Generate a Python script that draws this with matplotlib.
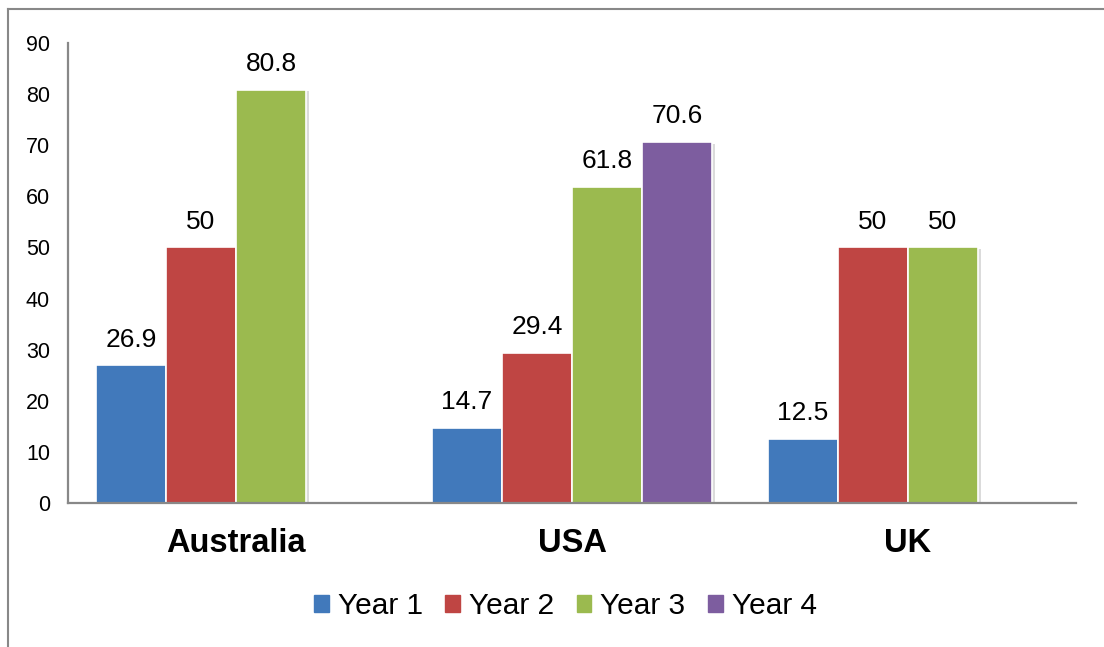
import matplotlib
matplotlib.use('Agg')
import matplotlib.pyplot as plt
import matplotlib.patheffects as pe
from matplotlib.lines import Line2D
import numpy as np

countries = ['Australia', 'USA', 'UK']
series = ['Year 1', 'Year 2', 'Year 3', 'Year 4']
values = {
    'Year 1': [26.9, 14.7, 12.5],
    'Year 2': [50, 29.4, 50],
    'Year 3': [80.8, 61.8, 50],
    'Year 4': [None, 70.6, None],
}
colors = ['#4179BB', '#BF4543', '#9BBA4F', '#7D5D9F']

plt.rcParams['font.family'] = ['Liberation Sans', 'DejaVu Sans']

fig = plt.figure(figsize=(11.04, 6.47), dpi=100)
ax = fig.add_axes([0.0616, 0.2226, 0.913, 0.711])

x = np.arange(len(countries))
w = 0.2083
shadow = [pe.SimplePatchShadow(offset=(2.5, -1), shadow_rgbFace='#999999', alpha=0.35), pe.Normal()]

for i, (name, col) in enumerate(zip(series, colors)):
    vals = values[name]
    for j, v in enumerate(vals):
        if v is None:
            continue
        bar = ax.bar(x[j] + (i - 1.5) * w, v, w, color=col, edgecolor='white', linewidth=1.2)
        bar[0].set_path_effects(shadow)
        ax.annotate(f'{v:g}', (x[j] + (i - 1.5) * w, v), xytext=(0, 10), textcoords='offset points',
                    ha='center', va='bottom', fontsize=19)

ax.set_xlim(-0.5, 2.5)
ax.set_ylim(0, 90)
ax.set_yticks(range(0, 91, 10))
ax.set_xticks(x)
ax.set_xticklabels(countries, fontsize=23.5, fontweight='bold')
ax.tick_params(axis='y', length=0, pad=13, labelsize=15.5)
ax.tick_params(axis='x', length=0, pad=18)

for s in ['top', 'right']:
    ax.spines[s].set_visible(False)
for s in ['left', 'bottom']:
    ax.spines[s].set_color('#888888')
    ax.spines[s].set_linewidth(1.6)

handles = [plt.Rectangle((0, 0), 1, 1, color=c) for c in colors]
fig.legend(handles, series, loc='center', bbox_to_anchor=(0.512, 0.063), ncol=4, frameon=False,
           fontsize=21.5, handlelength=0.5, handleheight=0.5, handletextpad=0.3, columnspacing=0.75)

# outer frame lines
fig.add_artist(Line2D([8 / 1104, 1], [1 - 9 / 647, 1 - 9 / 647], color='#888888', lw=1.5))
fig.add_artist(Line2D([8 / 1104, 8 / 1104], [0, 1 - 9 / 647], color='#888888', lw=1.5))

fig.savefig('out.png', dpi=100)
plt.close()
